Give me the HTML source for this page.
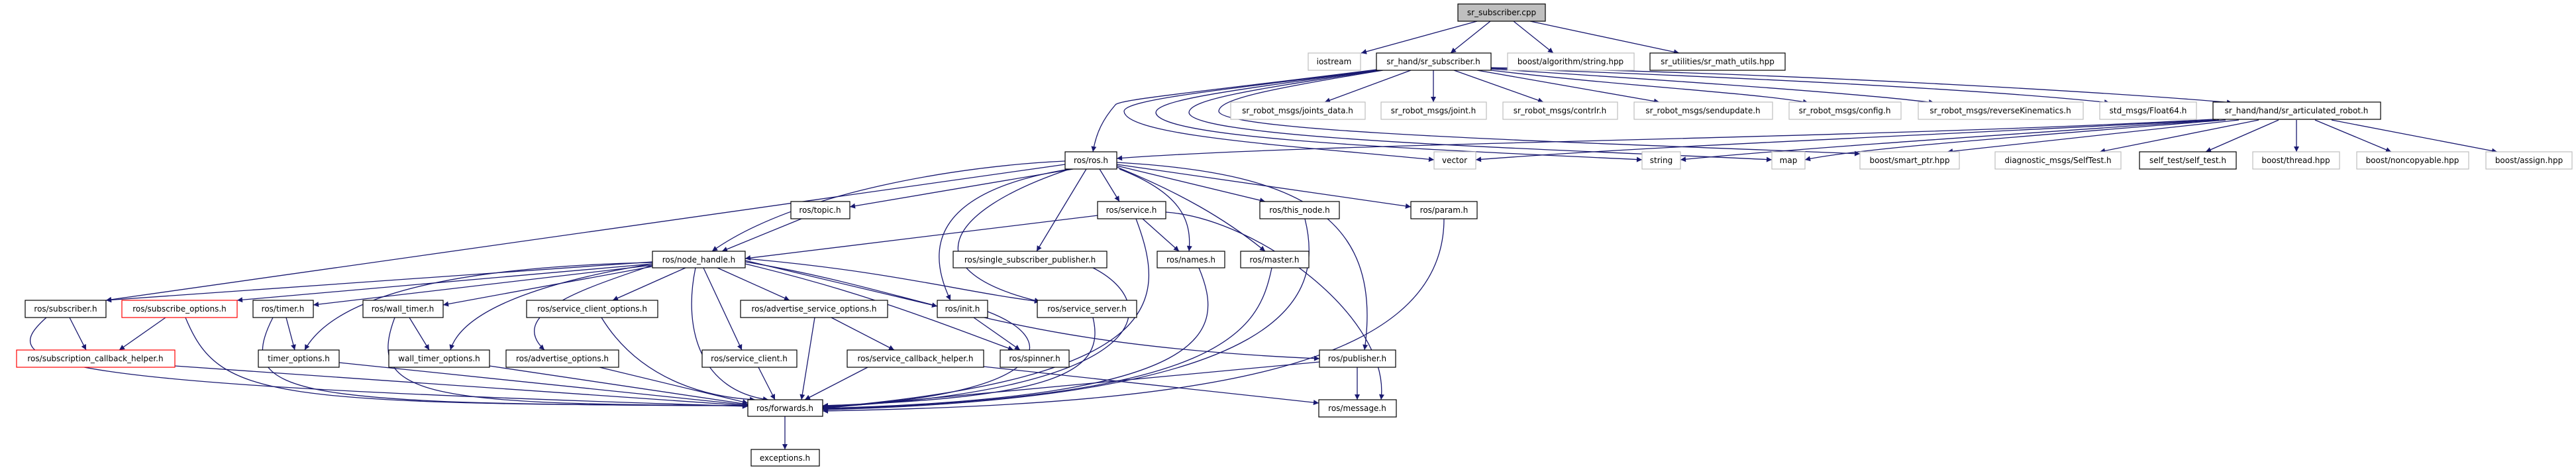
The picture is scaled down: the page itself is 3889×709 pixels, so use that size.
<!DOCTYPE html>
<html><head><meta charset="utf-8"><style>
html,body{margin:0;padding:0;background:#fff;}
svg{display:block;}
text{font-family:"DejaVu Sans","Liberation Sans",sans-serif;font-size:12px;fill:#000;}
.e{fill:none;stroke:#191970;stroke-width:1.3;marker-end:url(#a);}
.k{fill:#fff;stroke:#000;stroke-width:1.2;}
.g{fill:#fff;stroke:#bfbfbf;stroke-width:1.2;}
.r{fill:#fff;stroke:#ff0000;stroke-width:1.2;}
</style></head><body>
<svg width="3889" height="709" viewBox="0 0 3889 709" xmlns="http://www.w3.org/2000/svg">
<defs><marker id="a" viewBox="0 0 10 10" refX="10" refY="5" markerWidth="10" markerHeight="8" markerUnits="userSpaceOnUse" orient="auto"><path d="M0,0 L10,5 L0,10 z" fill="#191970"/></marker></defs>
<g>
<path class="e" d="M2230,32 L2055,80"/>
<path class="e" d="M2250,32 L2190,80"/>
<path class="e" d="M2285,32 L2345,80"/>
<path class="e" d="M2310,32 L2535,80"/>
<path class="e" d="M2130,106 L2000,154"/>
<path class="e" d="M2164,106 L2164,154"/>
<path class="e" d="M2195,106 L2330,154"/>
<path class="e" d="M2230,106 L2505,154"/>
<path class="e" d="M2251,106 C2450,130 2650,140 2730,155"/>
<path class="e" d="M2251,104 C2500,120 2800,140 2920,155"/>
<path class="e" d="M2251,103 C2600,115 3000,135 3185,155"/>
<path class="e" d="M2251,102 C2700,110 3200,140 3370,155"/>
<path class="e" d="M2078,105 C1800,140 1690,150 1684,158 C1665,180 1655,200 1650,229"/>
<path class="e" d="M2078,106 C1850,135 1697,150 1697,168 C1700,205 1950,220 2165,241"/>
<path class="e" d="M2080,106 C1870,135 1745,150 1745,170 C1750,210 2150,225 2479,241"/>
<path class="e" d="M2084,106 C1890,135 1795,150 1795,170 C1800,210 2350,225 2675,241"/>
<path class="e" d="M2088,106 C1910,135 1840,150 1840,168 C1845,200 2400,215 2808,232"/>
<path class="e" d="M3341,180 C2800,210 2000,215 1686,239"/>
<path class="e" d="M3345,181 C2900,205 2500,220 2228,241"/>
<path class="e" d="M3350,181 C3000,205 2700,225 2537,241"/>
<path class="e" d="M3360,181 C3000,210 2800,225 2725,241"/>
<path class="e" d="M3380,181 L2940,229"/>
<path class="e" d="M3410,181 L3170,229"/>
<path class="e" d="M3440,181 L3330,229"/>
<path class="e" d="M3467,181 L3467,229"/>
<path class="e" d="M3495,181 L3610,229"/>
<path class="e" d="M3520,181 L3770,229"/>
<path class="e" d="M1620,255 L1283,312"/>
<path class="e" d="M1608,243 C1450,250 1200,290 1075,379"/>
<path class="e" d="M1608,248 L160,453"/>
<path class="e" d="M1660,255 L1690,304"/>
<path class="e" d="M1640,255 L1565,379"/>
<path class="e" d="M1690,255 C1780,290 1800,330 1795,379"/>
<path class="e" d="M1686,252 C1780,290 1850,330 1910,379"/>
<path class="e" d="M1686,250 L1910,304"/>
<path class="e" d="M1686,248 L2130,312"/>
<path class="e" d="M1615,255 C1400,290 1400,380 1435,453"/>
<path class="e" d="M1615,255 C1420,320 1380,410 1570,455"/>
<path class="e" d="M1686,245 C1950,260 2090,320 2060,528"/>
<path class="e" d="M1657,325 L1125,390"/>
<path class="e" d="M1725,330 L1780,379"/>
<path class="e" d="M1715,330 C1760,450 1770,570 1242,615"/>
<path class="e" d="M1760,320 C1900,330 2100,480 2085,603"/>
<path class="e" d="M1970,330 C2000,450 1950,600 1242,618"/>
<path class="e" d="M2180,330 C2180,560 1800,610 1242,620"/>
<path class="e" d="M1650,404 C1760,460 1740,590 1242,614"/>
<path class="e" d="M1810,404 C1850,500 1840,600 1242,616"/>
<path class="e" d="M1920,404 C1900,500 1850,600 1242,617"/>
<path class="e" d="M1650,479 C1670,560 1600,600 1242,612"/>
<path class="e" d="M1470,479 L1540,528"/>
<path class="e" d="M1491,470 C1620,520 1560,600 1242,613"/>
<path class="e" d="M1125,395 C1400,440 1500,520 1992,541"/>
<path class="e" d="M1125,398 C1300,440 1400,480 1530,528"/>
<path class="e" d="M1125,393 L1415,462"/>
<path class="e" d="M1125,390 C1350,410 1450,440 1570,455"/>
<path class="e" d="M1992,546 L1242,616"/>
<path class="e" d="M2049,554 L2049,603"/>
<path class="e" d="M1310,554 L1215,603"/>
<path class="e" d="M1485,553 L1991,608"/>
<path class="e" d="M1255,479 L1350,528"/>
<path class="e" d="M1230,479 L1210,603"/>
<path class="e" d="M1145,554 L1170,603"/>
<path class="e" d="M1050,404 C1030,500 1060,590 1160,603"/>
<path class="e" d="M1062,404 L1120,528"/>
<path class="e" d="M1083,404 L1192,453"/>
<path class="e" d="M1035,404 L925,453"/>
<path class="e" d="M985,400 C900,430 760,470 822,528"/>
<path class="e" d="M985,398 C850,420 700,460 680,528"/>
<path class="e" d="M985,396 C800,400 520,420 460,528"/>
<path class="e" d="M985,402 L669,460"/>
<path class="e" d="M985,400 L473,460"/>
<path class="e" d="M985,398 L358,453"/>
<path class="e" d="M985,395 L160,453"/>
<path class="e" d="M1210,330 L1090,379"/>
<path class="e" d="M105,479 L130,528"/>
<path class="e" d="M70,479 C-10,550 50,580 1129,613"/>
<path class="e" d="M250,479 L180,528"/>
<path class="e" d="M280,479 C330,600 400,610 1129,612"/>
<path class="e" d="M432,479 L445,528"/>
<path class="e" d="M412,479 C350,600 450,610 1129,612"/>
<path class="e" d="M618,479 L648,528"/>
<path class="e" d="M596,479 C550,600 650,610 1129,612"/>
<path class="e" d="M908,479 C970,580 1080,600 1140,603"/>
<path class="e" d="M264,552 L1129,612"/>
<path class="e" d="M512,547 L1129,611"/>
<path class="e" d="M739,552 L1129,610"/>
<path class="e" d="M905,554 L1129,608"/>
<path class="e" d="M1185,628 L1185,678"/>
</g>
<g>
<rect x="2201" y="6" width="132" height="26" fill="#bfbfbf" stroke="#000" stroke-width="1.2"/><text x="2267" y="23" text-anchor="middle">sr_subscriber.cpp</text>
<rect class="g" x="1975" y="80" width="79" height="26"/><text x="2014" y="97" text-anchor="middle">iostream</text>
<rect class="k" x="2078" y="80" width="173" height="26"/><text x="2164" y="97" text-anchor="middle">sr_hand/sr_subscriber.h</text>
<rect class="g" x="2276" y="80" width="191" height="26"/><text x="2371" y="97" text-anchor="middle">boost/algorithm/string.hpp</text>
<rect class="k" x="2491" y="80" width="204" height="26"/><text x="2593" y="97" text-anchor="middle">sr_utilities/sr_math_utils.hpp</text>
<rect class="g" x="1858" y="154" width="203" height="26"/><text x="1959" y="171" text-anchor="middle">sr_robot_msgs/joints_data.h</text>
<rect class="g" x="2085" y="154" width="159" height="26"/><text x="2164" y="171" text-anchor="middle">sr_robot_msgs/joint.h</text>
<rect class="g" x="2269" y="154" width="173" height="26"/><text x="2355" y="171" text-anchor="middle">sr_robot_msgs/contrlr.h</text>
<rect class="g" x="2467" y="154" width="209" height="26"/><text x="2571" y="171" text-anchor="middle">sr_robot_msgs/sendupdate.h</text>
<rect class="g" x="2701" y="154" width="169" height="26"/><text x="2785" y="171" text-anchor="middle">sr_robot_msgs/config.h</text>
<rect class="g" x="2896" y="154" width="249" height="26"/><text x="3020" y="171" text-anchor="middle">sr_robot_msgs/reverseKinematics.h</text>
<rect class="g" x="3170" y="154" width="146" height="26"/><text x="3243" y="171" text-anchor="middle">std_msgs/Float64.h</text>
<rect class="k" x="3341" y="154" width="253" height="26"/><text x="3467" y="171" text-anchor="middle">sr_hand/hand/sr_articulated_robot.h</text>
<rect class="k" x="1608" y="229" width="78" height="26"/><text x="1647" y="246" text-anchor="middle">ros/ros.h</text>
<rect class="g" x="2165" y="229" width="63" height="26"/><text x="2196" y="246" text-anchor="middle">vector</text>
<rect class="g" x="2479" y="229" width="58" height="26"/><text x="2508" y="246" text-anchor="middle">string</text>
<rect class="g" x="2675" y="229" width="50" height="26"/><text x="2700" y="246" text-anchor="middle">map</text>
<rect class="g" x="2808" y="229" width="150" height="26"/><text x="2883" y="246" text-anchor="middle">boost/smart_ptr.hpp</text>
<rect class="g" x="3012" y="229" width="190" height="26"/><text x="3107" y="246" text-anchor="middle">diagnostic_msgs/SelfTest.h</text>
<rect class="k" x="3230" y="229" width="146" height="26"/><text x="3303" y="246" text-anchor="middle">self_test/self_test.h</text>
<rect class="g" x="3401" y="229" width="131" height="26"/><text x="3466" y="246" text-anchor="middle">boost/thread.hpp</text>
<rect class="g" x="3558" y="229" width="169" height="26"/><text x="3642" y="246" text-anchor="middle">boost/noncopyable.hpp</text>
<rect class="g" x="3753" y="229" width="130" height="26"/><text x="3818" y="246" text-anchor="middle">boost/assign.hpp</text>
<rect class="k" x="1194" y="304" width="89" height="26"/><text x="1238" y="321" text-anchor="middle">ros/topic.h</text>
<rect class="k" x="1657" y="304" width="103" height="26"/><text x="1708" y="321" text-anchor="middle">ros/service.h</text>
<rect class="k" x="1902" y="304" width="120" height="26"/><text x="1962" y="321" text-anchor="middle">ros/this_node.h</text>
<rect class="k" x="2130" y="304" width="100" height="26"/><text x="2180" y="321" text-anchor="middle">ros/param.h</text>
<rect class="k" x="985" y="379" width="140" height="25"/><text x="1055" y="396" text-anchor="middle">ros/node_handle.h</text>
<rect class="k" x="1439" y="379" width="232" height="25"/><text x="1555" y="396" text-anchor="middle">ros/single_subscriber_publisher.h</text>
<rect class="k" x="1747" y="379" width="102" height="25"/><text x="1798" y="396" text-anchor="middle">ros/names.h</text>
<rect class="k" x="1873" y="379" width="103" height="25"/><text x="1924" y="396" text-anchor="middle">ros/master.h</text>
<rect class="k" x="38" y="453" width="122" height="26"/><text x="99" y="470" text-anchor="middle">ros/subscriber.h</text>
<rect class="r" x="184" y="453" width="174" height="26"/><text x="271" y="470" text-anchor="middle">ros/subscribe_options.h</text>
<rect class="k" x="382" y="453" width="91" height="26"/><text x="427" y="470" text-anchor="middle">ros/timer.h</text>
<rect class="k" x="548" y="453" width="121" height="26"/><text x="608" y="470" text-anchor="middle">ros/wall_timer.h</text>
<rect class="k" x="795" y="453" width="198" height="26"/><text x="894" y="470" text-anchor="middle">ros/service_client_options.h</text>
<rect class="k" x="1118" y="453" width="222" height="26"/><text x="1229" y="470" text-anchor="middle">ros/advertise_service_options.h</text>
<rect class="k" x="1415" y="453" width="76" height="26"/><text x="1453" y="470" text-anchor="middle">ros/init.h</text>
<rect class="k" x="1566" y="453" width="150" height="26"/><text x="1641" y="470" text-anchor="middle">ros/service_server.h</text>
<rect class="r" x="25" y="528" width="239" height="26"/><text x="144" y="545" text-anchor="middle">ros/subscription_callback_helper.h</text>
<rect class="k" x="390" y="528" width="122" height="26"/><text x="451" y="545" text-anchor="middle">timer_options.h</text>
<rect class="k" x="587" y="528" width="152" height="26"/><text x="663" y="545" text-anchor="middle">wall_timer_options.h</text>
<rect class="k" x="764" y="528" width="170" height="26"/><text x="849" y="545" text-anchor="middle">ros/advertise_options.h</text>
<rect class="k" x="1060" y="528" width="143" height="26"/><text x="1131" y="545" text-anchor="middle">ros/service_client.h</text>
<rect class="k" x="1279" y="528" width="206" height="26"/><text x="1382" y="545" text-anchor="middle">ros/service_callback_helper.h</text>
<rect class="k" x="1510" y="528" width="104" height="26"/><text x="1562" y="545" text-anchor="middle">ros/spinner.h</text>
<rect class="k" x="1992" y="528" width="115" height="26"/><text x="2049" y="545" text-anchor="middle">ros/publisher.h</text>
<rect class="k" x="1129" y="603" width="113" height="25"/><text x="1185" y="620" text-anchor="middle">ros/forwards.h</text>
<rect class="k" x="1991" y="603" width="117" height="26"/><text x="2049" y="620" text-anchor="middle">ros/message.h</text>
<rect class="k" x="1134" y="678" width="103" height="25"/><text x="1185" y="695" text-anchor="middle">exceptions.h</text>
</g>
</svg>
</body></html>
